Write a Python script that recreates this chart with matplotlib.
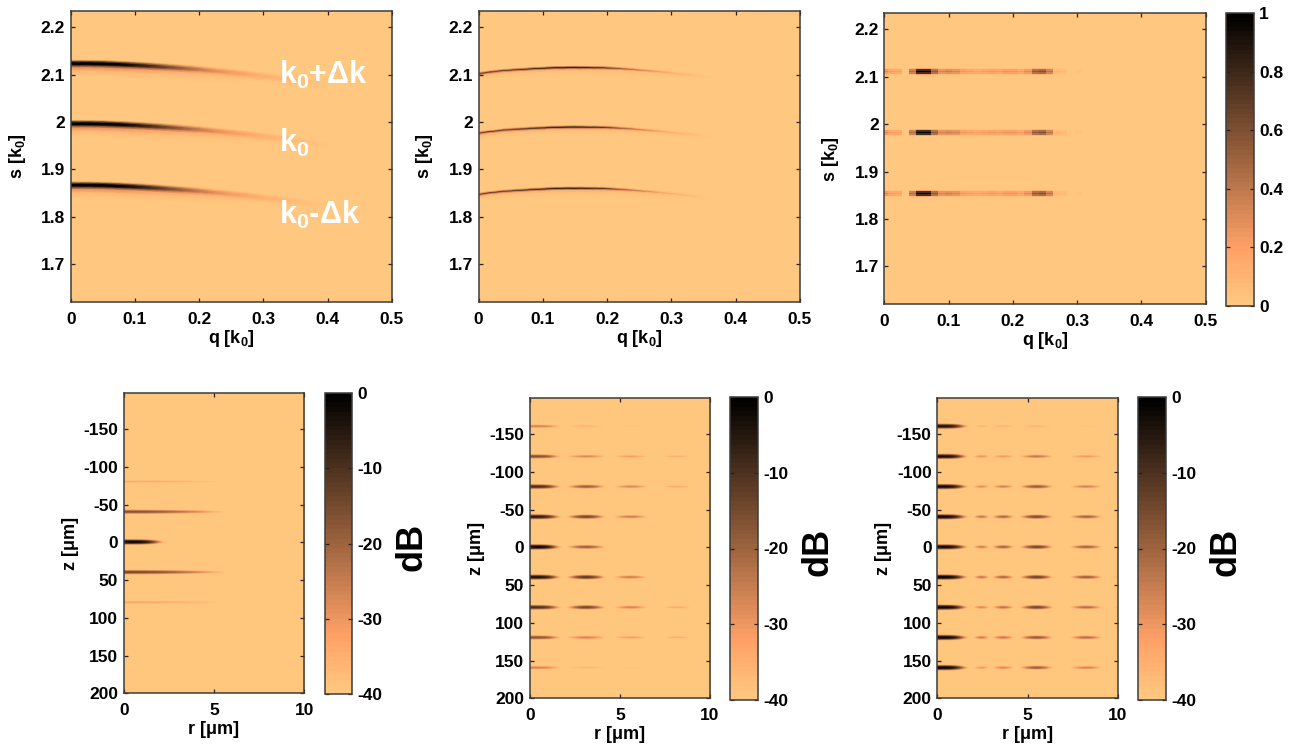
import numpy as np
import matplotlib
matplotlib.use("Agg")
import matplotlib.pyplot as plt

plt.rcParams["font.family"] = ["Liberation Sans", "DejaVu Sans"]
plt.rcParams["font.weight"] = "bold"
plt.rcParams["axes.labelweight"] = "bold"
plt.rcParams["mathtext.fontset"] = "custom"
plt.rcParams["mathtext.bf"] = "Liberation Sans:bold"
plt.rcParams["mathtext.rm"] = "Liberation Sans:bold"
plt.rcParams["mathtext.default"] = "bf"

# -- top row: s against q --
q_ticks = [0, 0.1, 0.2, 0.3, 0.4, 0.5]
q_labels = ["0", "0.1", "0.2", "0.3", "0.4", "0.5"]
s_ticks = [1.7, 1.8, 1.9, 2.0, 2.1, 2.2]
s_labels = ["1.7", "1.8", "1.9", "2", "2.1", "2.2"]

# left panel, ridge of each line read at these q stations
q_left = [0, 0.03, 0.05, 0.075, 0.1, 0.125, 0.15, 0.175, 0.2, 0.225, 0.25, 0.275, 0.3, 0.325, 0.35, 0.375, 0.4]
s_left_start = [2.1226, 1.9958, 1.8663]
drop_left = [0, 0.0002, 0.0007, 0.002, 0.0036, 0.0056, 0.0078, 0.0102, 0.0127, 0.0158, 0.019, 0.0225, 0.0265, 0.0305, 0.035, 0.04, 0.046]
peak_left = [1, 1, 1, 0.97, 0.88, 0.76, 0.62, 0.49, 0.37, 0.28, 0.21, 0.16, 0.12, 0.09, 0.06, 0.035, 0.0]
across_left = [0.0082, 0.0048, 0.0018, -0.0018, -0.0048, -0.0085, -0.015, -0.025]
weight_left = [0, 0.6, 1, 1, 0.6, 0.26, 0.09, 0]

# middle panel
q_mid = [0, 0.02, 0.04, 0.065, 0.09, 0.12, 0.15, 0.17, 0.195, 0.22, 0.24, 0.26, 0.28, 0.3, 0.32, 0.34, 0.36]
s_mid_start = [2.1015, 1.976, 1.847]
rise_mid = [0, 0.0035, 0.0065, 0.0085, 0.0105, 0.0122, 0.0127, 0.0125, 0.012, 0.0103, 0.0085, 0.0063, 0.004, 0.0012, -0.0018, -0.0045, -0.0085]
peak_mid = [0.7, 0.68, 0.7, 0.75, 0.82, 0.88, 0.92, 0.85, 0.75, 0.55, 0.42, 0.3, 0.2, 0.13, 0.08, 0.04, 0]
across_mid = [0.0042, 0.0021, 0, -0.0021, -0.0042, -0.008, -0.013]
weight_mid = [0, 0.4, 1, 0.45, 0.14, 0.05, 0]

# right panel, cells along q
q_right_edges = [-0.0062 + 0.0112 * k for k in range(30)]
s_right = [2.111, 1.983, 1.854]
cells_right = [0.3, 0.22, 0.2, 0.02, 0.45, 1, 1, 0.55, 0.33, 0.36, 0.34, 0.24, 0.22, 0.2, 0.22, 0.24,
               0.22, 0.26, 0.25, 0.22, 0.3, 0.55, 0.6, 0.42, 0.1, 0.08, 0, 0.04, 0]
across_right = [0.0078, 0.0048, 0.0016, -0.0016, -0.0048, -0.0078]
weight_right = [0.2, 0.78, 1, 0.78, 0.2]

# -- bottom row: z against r, peak level in dB of each spot --
r_ticks = [0, 5, 10]
z_ticks = [-150, -100, -50, 0, 50, 100, 150, 200]
db_ticks = [-40, -30, -20, -10, 0]
amp_ticks = [0, 0.2, 0.4, 0.6, 0.8, 1]

z_rows_a = [-80, -40, 0, 40, 80]
r_centre_a = [0, 0]
r_half_a = [2.4, 5.8]
db_a = [[-40, -33],
        [-40, -16],
        [0, -40],
        [-40, -14],
        [-40, -32]]

z_rows = [-160, -120, -80, -40, 0, 40, 80, 120, 160]
r_centre_b = [0, 3.1, 5.56, 8.13]
r_half_b = [1.85, 1.1, 0.95, 0.8]
db_b = [[-26, -35, -38, -40],
        [-16, -27, -31, -34],
        [-9, -19, -27, -33],
        [-5, -14, -25, -40],
        [0, -19, -40, -40],
        [-3, -11, -25, -40],
        [-9, -14, -26, -33],
        [-17, -26, -31, -34],
        [-26, -35, -38, -40]]

r_centre_c = [0, 2.45, 3.65, 5.5, 8.25, 10.0]
r_half_c = [1.85, 0.45, 0.62, 0.95, 0.92, 0.38]
db_c = [[-3, -35, -35, -35, -38, -40],
        [-2, -29, -30, -24, -30, -40],
        [-1, -28, -26, -18, -26, -40],
        [-1, -24, -21, -15, -20, -37],
        [-1, -25, -20, -14, -20, -37],
        [0, -24, -21, -13, -19, -36],
        [0, -27, -23, -14, -22, -37],
        [0, -25, -24, -18, -22, -38],
        [0, -30, -27, -19, -26, -40]]

FIG_W, FIG_H = 1296, 747
EDGE = "#3c3c3c"
cmap = plt.get_cmap("copper_r", 64)


def place(fig, left, top, right, bottom):
    return fig.add_axes([left / FIG_W, 1 - bottom / FIG_H, (right - left) / FIG_W, (bottom - top) / FIG_H])


def style(ax, width, height):
    ax.set_facecolor(cmap(0))
    ax.tick_params(direction="in", length=3, width=0.9, color="#222222", top=True, right=True, labelsize=12.5)
    ax.tick_params(axis="x", pad=7)
    ax.tick_params(axis="y", pad=4)
    for side in ax.spines.values():
        side.set_color(EDGE)
        side.set_linewidth(1.1)
    # label centres sit a fixed number of pixels off the frame
    ax.xaxis.set_label_coords(0.5, -36.7 / height)
    ax.xaxis.label.set_va("center")
    ax.yaxis.set_label_coords(-53.5 / width, 0.5)
    ax.yaxis.label.set_va("center")


def top_axes(ax):
    ax.set_xlim(0, 0.5)
    ax.set_ylim(1.62, 2.234)
    ax.set_xticks(q_ticks, q_labels)
    ax.set_yticks(s_ticks, s_labels)
    ax.set_xlabel(r"q [k$_{\mathbf{0}}$]", fontsize=13)
    ax.set_ylabel(r"s [k$_{\mathbf{0}}$]", fontsize=13)
    style(ax, 321.3, 291.3)


def curved_lines(ax, q, starts, shift, peak, across, weight):
    q = np.array(q)
    shift = np.array(shift)
    peak = np.array(peak)
    across = np.array(across)
    weight = np.array(weight)
    for start in starts:
        xx = np.tile(q, (len(across), 1))
        yy = start + shift[None, :] + across[:, None]
        ax.pcolormesh(xx, yy, peak[None, :] * weight[:, None], shading="gouraud", cmap=cmap, vmin=0, vmax=1)


def spot_image(ax, rows, centres, halves, table):
    r = np.linspace(0, 10, 401)
    z = np.linspace(-198.5, 200, 800)
    rr, zz = np.meshgrid(r, z)
    field = np.zeros(rr.shape)
    for row_z, row in zip(rows, table):
        for centre, half, db in zip(centres, halves, row):
            level = (db + 40) / 40
            if level <= 0:
                continue
            u = np.clip(np.abs(rr - centre) / half, 0, 1)
            if centre == 0 and half < 2.5:
                along = (1 - u ** 4) ** 2
            else:
                along = 1 - u ** 2
            spot = level * along - ((zz - row_z) / 3.9) ** 2
            field = np.maximum(field, spot)
    im = ax.imshow(field * 40 - 40, extent=[0, 10, 200, -198.5], aspect="auto", cmap=cmap, vmin=-40, vmax=0,
                   interpolation="bilinear")
    ax.set_xticks(r_ticks, [str(t) for t in r_ticks])
    ax.set_yticks(z_ticks, [str(t) for t in z_ticks])
    ax.set_xlabel("r [μm]", fontsize=13)
    ax.set_ylabel("z [μm]", fontsize=13)
    style(ax, 180.6, 300.6)
    return im


def bar(fig, im, box, ticks, labels, title=None):
    cax = place(fig, *box)
    cb = fig.colorbar(im, cax=cax)
    cb.set_ticks(ticks, labels=labels)
    cax.tick_params(direction="in", length=3, width=0.9, color="#222222", left=True, right=True,
                    labelsize=12.5, pad=4)
    cb.outline.set_edgecolor(EDGE)
    cb.outline.set_linewidth(1.1)
    if title:
        cb.set_label(title, fontsize=26, fontweight="bold")
        cax.yaxis.set_label_coords(60 / 27.3 + 1, 0.487)
        cax.yaxis.label.set_va("center")


fig = plt.figure(figsize=(FIG_W / 100, FIG_H / 100), dpi=100)

ax1 = place(fig, 70.7, 11, 392, 302.3)
curved_lines(ax1, q_left, s_left_start, -np.array(drop_left), peak_left, across_left, weight_left)
top_axes(ax1)
ax1.text(0.324, 2.1, r"k$_{\mathbf{0}}$+Δk", color="white", fontsize=22, va="center")
ax1.text(0.324, 1.955, r"k$_{\mathbf{0}}$", color="white", fontsize=22, va="center")
ax1.text(0.324, 1.805, r"k$_{\mathbf{0}}$-Δk", color="white", fontsize=22, va="center")

ax2 = place(fig, 478.5, 11, 800, 302.3)
curved_lines(ax2, q_mid, s_mid_start, rise_mid, peak_mid, across_mid, weight_mid)
top_axes(ax2)

ax3 = place(fig, 884.3, 13.3, 1205.7, 304.3)
for s_line in s_right:
    rows = np.array(across_right) + s_line
    mesh = ax3.pcolormesh(q_right_edges, rows[::-1], np.outer(weight_right, cells_right), shading="flat",
                          cmap=cmap, vmin=0, vmax=1)
top_axes(ax3)
ax3.set_xlim(0, 0.5)
bar(fig, mesh, (1226, 13, 1253.7, 305.6), amp_ticks, ["0", "0.2", "0.4", "0.6", "0.8", "1"])

ax4 = place(fig, 123.7, 392.7, 304.3, 693.3)
im4 = spot_image(ax4, z_rows_a, r_centre_a, r_half_a, db_a)
bar(fig, im4, (324.7, 392.7, 352, 694.3), db_ticks, [str(t) for t in db_ticks], "dB")

ax5 = place(fig, 529.7, 397.7, 710, 698.3)
im5 = spot_image(ax5, z_rows, r_centre_b, r_half_b, db_b)
bar(fig, im5, (730.3, 397.3, 757.7, 699.7), db_ticks, [str(t) for t in db_ticks], "dB")

ax6 = place(fig, 937.3, 397.7, 1118, 698.3)
im6 = spot_image(ax6, z_rows, r_centre_c, r_half_c, db_c)
bar(fig, im6, (1138.3, 397.3, 1165.7, 699.7), db_ticks, [str(t) for t in db_ticks], "dB")

fig.savefig("out.png", dpi=100)
